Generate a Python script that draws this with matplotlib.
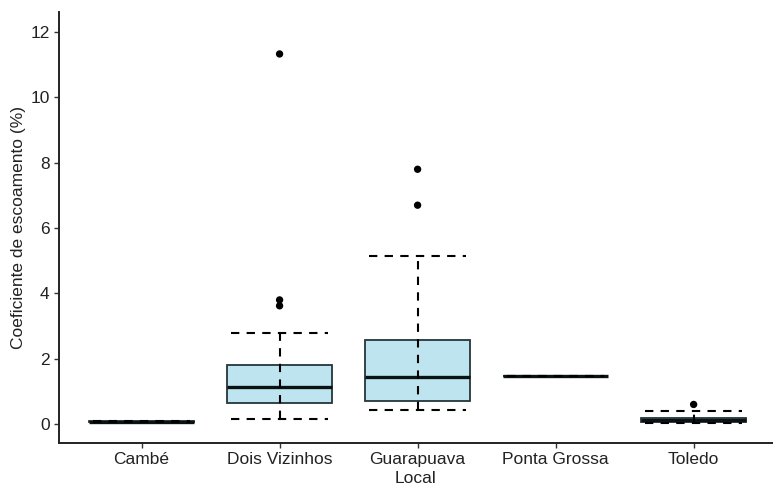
import matplotlib
matplotlib.use("Agg")
import matplotlib.pyplot as plt

plt.rcParams['font.family'] = ['Liberation Sans', 'DejaVu Sans']

# Data
locais = ["Cambé", "Dois Vizinhos", "Guarapuava", "Ponta Grossa", "Toledo"]
whisker_low = [0.05, 0.15, 0.43, 1.48, 0.04]
q1 = [0.06, 0.65, 0.70, 1.48, 0.07]
median = [0.07, 1.13, 1.44, 1.48, 0.13]
q3 = [0.08, 1.82, 2.57, 1.48, 0.19]
whisker_high = [0.09, 2.78, 5.15, 1.48, 0.39]
outliers = [[], [3.62, 3.80, 11.33], [6.70, 7.80], [], [0.60]]

y_ticks = [0, 2, 4, 6, 8, 10, 12]
x_label = "Local"
y_label = "Coeficiente de escoamento (%)"

box_face = "#BEE5EF"
box_edge = "#25353A"

fig = plt.figure(figsize=(7.73, 4.86), dpi=100)
ax = fig.add_axes([0.076, 0.0885, 0.924, 0.8865])

positions = list(range(1, len(locais) + 1))
stats = []
for i, name in enumerate(locais):
    stats.append(dict(label=name, med=median[i], q1=q1[i], q3=q3[i],
                      whislo=whisker_low[i], whishi=whisker_high[i],
                      fliers=outliers[i]))

ax.bxp(stats, positions=positions, widths=0.76, patch_artist=True,
       showcaps=False, showfliers=False,
       boxprops=dict(facecolor=box_face, edgecolor=box_edge, linewidth=1.3),
       medianprops=dict(color="#0A1214", linewidth=2.4),
       whiskerprops=dict(linestyle="none"), zorder=2)

# dashed errorbar-style whiskers and caps
cap_w = 0.70
dash = (0, (4, 3.5))
for i, p in enumerate(positions):
    ax.vlines(p, whisker_low[i], whisker_high[i], colors="black",
              linestyles=dash, linewidth=1.5, zorder=3)
    for v in (whisker_low[i], whisker_high[i]):
        ax.hlines(v, p - cap_w / 2, p + cap_w / 2, colors="black",
                  linestyles=dash, linewidth=1.5, zorder=3)
    if outliers[i]:
        ax.scatter([p] * len(outliers[i]), outliers[i], s=28, color="black",
                   zorder=4, edgecolors="none")

ax.set_xlim(0.4, 5.575)
ax.set_ylim(-0.58, 12.61)
ax.set_xticks(positions)
ax.set_xticklabels(locais)
ax.set_yticks(y_ticks)
ax.set_yticklabels([str(t) for t in y_ticks])

for s in ("top", "right"):
    ax.spines[s].set_visible(False)
for s in ("left", "bottom"):
    ax.spines[s].set_color("#222222")
    ax.spines[s].set_linewidth(1.4)

ax.tick_params(axis="both", colors="#333333", length=3.5, width=1.0,
               labelsize=12.5, labelcolor="#222222", pad=3)
ax.set_xlabel(x_label, fontsize=12.5, color="#222222", labelpad=3)
ax.set_ylabel(y_label, fontsize=12.5, color="#222222", labelpad=3)

fig.savefig("out.png", dpi=100, facecolor="white")
